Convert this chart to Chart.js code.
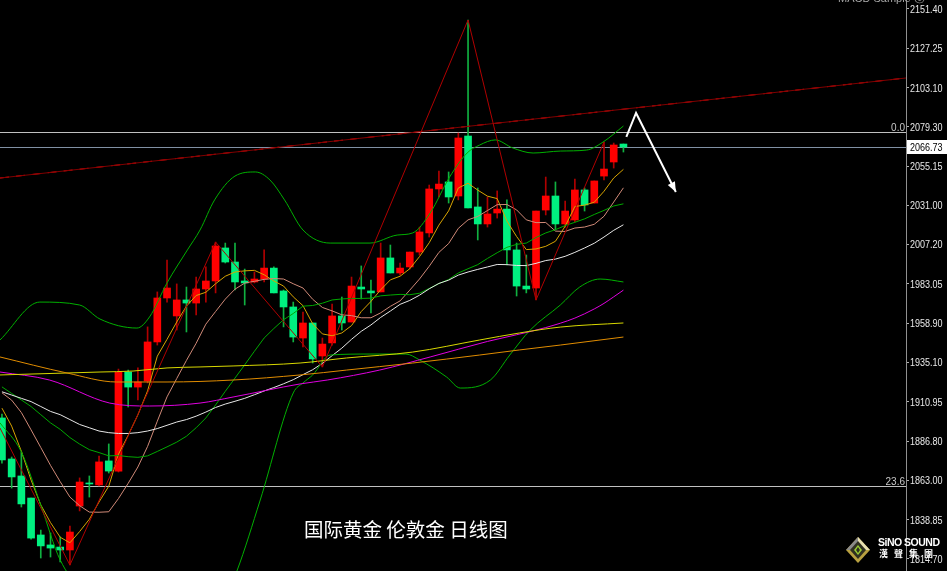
<!DOCTYPE html>
<html><head><meta charset="utf-8">
<script src="https://cdn.jsdelivr.net/npm/chart.js@4.4.1/dist/chart.umd.min.js"></script>
<style>
html,body{margin:0;padding:0;background:#000;overflow:hidden;}
#wrap{position:relative;width:947px;height:571px;background:#000;}
canvas{display:block;}
.title{position:absolute;left:304px;top:519px;font-family:"Noto Sans CJK SC";font-size:19.5px;line-height:20px;color:#fff;white-space:pre;}
.macd{position:absolute;left:838px;top:-9px;font-family:"Liberation Sans",sans-serif;font-size:11px;color:#a8a8a8;white-space:pre;}
.logo1{position:absolute;left:878px;top:537px;font-family:"Liberation Sans",sans-serif;font-weight:bold;font-size:10.5px;line-height:11px;color:#fff;letter-spacing:-0.5px;}
.logo2{position:absolute;left:879px;top:549px;font-family:"Noto Sans CJK TC";font-weight:bold;font-size:9px;line-height:10px;color:#fff;letter-spacing:6px;}
.logoic{position:absolute;left:845px;top:536px;}
</style></head>
<body><div id="wrap"><canvas id="c" width="947" height="571"></canvas>
<div class="title">国际黄金 伦敦金 日线图</div>
<div class="macd">MACD Sample ⓢ</div>
<svg class="logoic" width="26" height="28" viewBox="0 0 26 28">
<polygon points="13,1 25,14 13,27 1,14" fill="#b8a040"/>
<polygon points="13,1 25,14 13,14" fill="#e8e0b0"/>
<polygon points="1,14 13,1 13,14" fill="#8a8a8a"/>
<polygon points="13,5 21,14 13,23 5,14" fill="#303020"/>
<polygon points="13,9 17,14 13,19 9,14" fill="#9acd32"/>
<polygon points="13,11 15,14 13,17 11,14" fill="#303020"/>
</svg>
<div class="logo1">SiNO SOUND</div>
<div class="logo2">漢聲集團</div>
</div>
<script>
// ---- candle data (daily, index 0..64) ----
const opens  = [1901.0,1875.9,1865.5,1852.0,1829.4,1823.3,1822.0,1820.2,1847.1,1861.2,1860.0,1874.7,1868.5,1929.1,1919.9,1923.6,1947.5,1974.4,1963.4,1973.2,1971.3,1979.9,1984.8,2005.0,1996.4,1984.8,1984.2,1986.0,1992.7,1978.7,1968.9,1949.9,1959.1,1938.9,1946.9,1963.4,1959.7,1981.1,1978.7,1978.1,1998.9,1989.7,1993.4,2002.5,2014.2,2041.1,2045.4,2036.8,2073.5,2030.1,2019.7,2026.4,2028.8,2003.8,1981.7,1980.5,2028.2,2036.8,2019.7,2022.1,2040.5,2032.5,2049.0,2057.6,2068.6];
const highs  = [1903.4,1877.1,1880.2,1852.0,1832.4,1830.6,1828.2,1834.9,1864.3,1865.5,1877.7,1885.1,1930.9,1930.3,1931.6,1956.7,1978.1,1997.6,1983.0,1981.1,1987.2,1993.4,2008.6,2008.0,2008.0,1992.1,1990.3,2003.8,1993.4,1979.3,1971.9,1965.8,1959.1,1949.9,1970.7,1975.0,1987.2,1994.0,1985.4,2008.0,2006.8,1995.8,2002.5,2017.8,2043.5,2052.1,2051.5,2075.3,2144.5,2041.7,2036.2,2039.9,2034.4,2008.0,2000.7,2027.6,2048.4,2045.4,2033.7,2047.2,2041.7,2046.0,2069.8,2069.2,2068.6];
const lows   = [1873.4,1858.1,1846.5,1826.9,1815.3,1815.9,1812.9,1811.0,1844.1,1852.6,1859.4,1867.3,1867.9,1907.7,1912.0,1922.4,1945.6,1971.9,1954.8,1953.6,1964.0,1971.9,1977.5,1995.8,1979.3,1970.1,1983.6,1984.2,1977.5,1956.7,1947.5,1944.4,1934.6,1932.2,1945.6,1954.8,1959.7,1973.8,1965.2,1978.1,1989.7,1988.5,1992.1,2000.7,2011.7,2036.2,2032.5,2034.4,2029.5,2009.9,2017.8,2023.3,1994.6,1975.6,1977.5,1973.2,2025.2,2016.0,2017.8,2020.9,2027.6,2032.5,2046.6,2053.9,2063.7];
const closes = [1875.3,1864.9,1848.4,1827.5,1822.7,1821.4,1820.2,1831.2,1861.8,1860.6,1874.1,1868.5,1929.1,1919.9,1923.0,1947.5,1974.4,1980.5,1973.2,1971.3,1979.9,1984.8,2006.2,1996.4,1984.2,1983.6,1986.0,1992.7,1977.5,1968.9,1950.5,1959.1,1937.1,1946.2,1963.4,1959.1,1981.7,1979.9,1977.5,1998.9,1989.7,1992.7,2002.5,2014.8,2041.1,2044.1,2036.2,2072.3,2029.5,2019.7,2025.8,2028.8,2003.8,1981.7,1979.9,2027.6,2036.8,2019.7,2027.6,2040.5,2031.3,2046.0,2053.3,2068.0,2066.73];

// ---- moving averages (one value per candle) ----
const ma5  = [1907,1896,1880.6,1863,1847.8,1837.0,1828.0,1824.6,1831.5,1839.0,1849.6,1859.2,1878.8,1890.4,1902.9,1917.6,1938.8,1949.1,1959.7,1969.4,1975.9,1977.9,1983.1,1987.7,1990.3,1991.0,1991.3,1988.6,1984.8,1981.7,1975.1,1969.7,1958.6,1952.4,1951.3,1953.0,1957.5,1966.1,1972.3,1979.4,1985.5,1987.7,1992.3,1999.7,2008.2,2019.0,2027.7,2041.7,2044.6,2040.4,2036.7,2035.2,2021.5,2012.0,2004.0,2004.4,2006.0,2009.1,2018.3,2030.4,2031.2,2033.0,2039.7,2047.8,2053.1];
const ma10 = [1916.4,1911.9,1904.3,1893.7,1882.9,1872.0,1862.0,1852.6,1847.3,1843.4,1843.3,1843.6,1851.7,1861.0,1871.0,1883.6,1899.0,1913.9,1925.1,1936.2,1946.7,1958.4,1966.1,1973.7,1979.8,1983.5,1984.6,1985.8,1986.3,1986.0,1983.1,1980.5,1973.6,1968.6,1966.5,1964.1,1963.6,1962.3,1962.3,1965.3,1969.3,1972.6,1979.2,1986.0,1993.8,2002.3,2007.7,2017.0,2022.2,2024.3,2027.9,2031.5,2031.6,2028.3,2022.2,2020.5,2020.6,2015.3,2015.1,2017.2,2017.8,2019.5,2024.4,2033.1,2041.8];
const ma20 = [1920,1916,1912,1908,1903,1898,1894,1889,1885,1881.6,1879.8,1877.8,1878.0,1877.3,1876.9,1877.8,1880.5,1883.3,1886.2,1889.8,1895.0,1901.0,1908.9,1917.3,1925.4,1933.5,1941.8,1949.9,1955.7,1961.1,1964.9,1969.4,1969.8,1971.2,1973.2,1973.8,1974.1,1974.1,1974.3,1975.7,1976.2,1976.6,1976.4,1977.3,1980.2,1983.2,1985.7,1989.7,1992.3,1994.8,1998.6,2002.1,2005.4,2007.2,2008.0,2011.4,2014.2,2016.2,2018.7,2020.7,2022.8,2025.5,2028.0,2030.7,2032.0];
const ma30 = [1917,1915,1913,1911,1908,1905,1903,1900,1897,1895,1893,1892,1891.5,1891.5,1892,1893,1894.5,1896.5,1898.5,1900,1902.1,1904.6,1907.4,1909.5,1911.2,1913.0,1915.2,1917.5,1919.6,1921.9,1924.4,1927.5,1930.5,1934.4,1939.1,1943.7,1949.1,1954.0,1957.9,1962.5,1966.4,1970.5,1972.9,1976.1,1980.0,1983.3,1985.3,1988.4,1990.3,1991.9,1993.4,1994.9,1994.8,1994.3,1994.2,1995.6,1997.3,1998.2,1999.9,2002.3,2005.0,2007.9,2011.7,2015.8,2019.2];

// ---- sparser lines: [candle position, price] ----
const bbUpperX = [-0.2,3.9,8.0,10.1,13.9,15.2,17.0,19.1,20.4,21.9,24.0,26.1,27.6,29.1,31.0,33.8,37.9,40.7,42.3,44.1,46.1,47.9,49.2,50.8,52.6,54.7,57.5,60.2,61.9,64];
const bbUpperY = [1948.7,1971.9,1970.1,1961.5,1956.0,1962.8,1983.6,2003.8,2016.0,2034.4,2049.0,2051.5,2046.6,2034.4,2016.0,2008.0,2008.0,2012.9,2014.2,2026.4,2048.4,2063.1,2068.0,2071.1,2066.2,2063.1,2064.3,2064.9,2069.8,2079.6];
const bbLowerX = [-0.2,2.0,4.0,6.0,8,10,14,17,20,22,24.2,26.6,30.0,31.0,32.0,33.8,37.9,41.6,43.0,45.8,47.2,50.3,52.3,54.4,57.5,59.5,61.6,64];
const bbLowerY = [1898,1880.2,1847.7,1814.1,1800,1800,1798,1786,1778,1778,1807.4,1850.8,1916.3,1922.4,1927.3,1939.5,1940.1,1940.1,1936.5,1926.0,1919.3,1924.2,1939.5,1954.8,1970.1,1981.1,1986.0,1984.2];
const ma60X = [-0.2,4.9,11.1,15.2,20.4,23.8,30.7,33.5,38.9,44.1,50,53,56,59,61,62,63,64];
const ma60Y = [1929.1,1924.2,1910.1,1908.3,1910.1,1913.8,1921.8,1924.2,1930.3,1938.3,1947.8,1951.9,1956.3,1962.1,1967.7,1971.1,1975.1,1979.2];
const ma120X = [-0.2,6.7,10.1,13.5,17,20.4,23.8,30.7,35.5,42.3,49.2,53.3,57.5,64];
const ma120Y = [1927.3,1928.5,1929.1,1929.7,1931.6,1932.2,1932.8,1934.6,1937.7,1941.3,1948.7,1953.0,1956.6,1959.1];
const ma200X = [-0.2,6.7,11.8,17,23.8,30.7,35.5,42.3,49.2,53.3,57.5,64];
const ma200Y = [1938.3,1928.5,1923.0,1923.0,1924.2,1927.3,1930.3,1934.6,1939.5,1942.6,1945.6,1950.5];

// zigzag pivots (candle index, 'H' or 'L'), plus entry point at left edge
const zigStart = [-0.2, 1894.8];
const zigPivots = [[7,'L'],[22,'H'],[33,'L'],[48,'H'],[55,'L'],[62,'H']];
// long trend line (two anchors)
const trendX = [-0.2, 93.1];
const trendY = [2047.8, 2109.0];
// fibonacci levels
const fibLabels = ['0.0','23.6'];
const fibPrices = [2075.8, 1859.5];
// arrow anchors (candle position, price)
const arrowX = [64.3, 65.3, 69.4];
const arrowY = [2072.9, 2087.6, 2039.2];
// axis
const tickValues = [2151.40,2127.25,2103.10,2079.30,2055.15,2031.00,2007.20,1983.05,1958.90,1935.10,1910.95,1886.80,1863.00,1838.85,1814.70];
const yMin = 1807.35, yMax = 2156.72;
const xMin = -0.2, xMax = 93.1;

const RED = '#ff0000', GREEN = '#00f080';
const AXIS_FONT = '11px "Liberation Sans", sans-serif';
const idx = closes.map((_, i) => i);
const up = closes.map((c, i) => c > opens[i]);

const pts = (xs, ys) => xs.map((x, k) => ({x, y: ys[k]}));
const lineDs = (data, color, extra) => Object.assign({type:'line', data, borderColor: color, borderWidth: 1, pointRadius: 0, fill: false, tension: 0, order: 1}, extra || {});

const zigData = [{x: zigStart[0], y: zigStart[1]}].concat(zigPivots.map(([i, t]) => ({x: i, y: t === 'H' ? highs[i] : lows[i]})));

const datasets = [
  {type:'bar', data: idx.map(i => ({x: i, y: [lows[i], highs[i]]})), backgroundColor: up.map(u => u ? '#b00000' : '#10b040'), barThickness: 1, grouped: false, order: 3},
  {type:'bar', data: idx.map(i => ({x: i, y: [opens[i], closes[i]]})), backgroundColor: up.map(u => u ? RED : GREEN), barThickness: 7, grouped: false, minBarLength: 1, order: 2},
  lineDs(pts(ma200X, ma200Y), '#e08c00', {cubicInterpolationMode: 'monotone'}),
  lineDs(pts(ma120X, ma120Y), '#d8d800', {cubicInterpolationMode: 'monotone'}),
  lineDs(pts(ma60X, ma60Y), '#e000e0', {cubicInterpolationMode: 'monotone'}),
  lineDs(pts(bbUpperX, bbUpperY), '#00b000', {cubicInterpolationMode: 'monotone'}),
  lineDs(pts(bbLowerX, bbLowerY), '#00b000', {cubicInterpolationMode: 'monotone'}),
  lineDs(pts(idx, ma30), '#e6e6e6'),
  lineDs(pts(idx, ma20), '#00a800'),
  lineDs(pts(idx, ma10), '#d08a78'),
  lineDs(pts(idx, ma5), '#d8a400'),
  lineDs(zigData, '#b00000', {order: 0}),
  lineDs(pts(trendX, trendY), '#800000', {order: 0}),
  lineDs(pts(trendX, trendY), '#ff1010', {order: 0, borderDash: [9, 7]})
];

// draws text horizontally condensed (terminal-style narrow digits)
function narrowText(ctx, txt, x, y, sx) {
  ctx.save(); ctx.translate(x, y); ctx.scale(sx, 1); ctx.fillText(txt, 0, 0); ctx.restore();
}

const overlay = {
  id: 'overlay',
  beforeDatasetsDraw(chart) {
    const {ctx, chartArea: a, scales: {y}} = chart;
    ctx.save();
    ctx.lineWidth = 1;
    fibPrices.forEach(p => {
      const py = Math.round(y.getPixelForValue(p)) + 0.5;
      ctx.strokeStyle = '#c0c0c0';
      ctx.beginPath(); ctx.moveTo(a.left, py); ctx.lineTo(a.right, py); ctx.stroke();
    });
    const last = closes[closes.length - 1];
    const cy = Math.round(y.getPixelForValue(last)) + 0.5;
    ctx.strokeStyle = '#8090a4';
    ctx.beginPath(); ctx.moveTo(a.left, cy); ctx.lineTo(a.right, cy); ctx.stroke();
    ctx.restore();
  },
  afterDraw(chart) {
    const {ctx, chartArea: a, scales: {x, y}} = chart;
    ctx.save();
    // axis labels
    ctx.font = AXIS_FONT; ctx.fillStyle = '#e8e8e8';
    ctx.textAlign = 'left'; ctx.textBaseline = 'middle';
    tickValues.forEach(v => narrowText(ctx, v.toFixed(2), a.right + 4, Math.round(y.getPixelForValue(v)) + 1, 0.82));
    // fib labels
    ctx.font = '10px "Liberation Sans", sans-serif';
    ctx.fillStyle = '#c8c8c8';
    ctx.textAlign = 'right'; ctx.textBaseline = 'alphabetic';
    fibPrices.forEach((p, k) => {
      ctx.fillText(fibLabels[k], a.right - 1, Math.round(y.getPixelForValue(p)) - 1);
    });
    // arrow
    const px = arrowX.map(v => x.getPixelForValue(v));
    const py = arrowY.map(v => y.getPixelForValue(v));
    ctx.strokeStyle = '#ffffff'; ctx.fillStyle = '#ffffff'; ctx.lineWidth = 2;
    ctx.beginPath(); ctx.moveTo(px[0], py[0]);
    for (let k = 1; k < px.length; k++) ctx.lineTo(px[k], py[k]);
    ctx.stroke();
    const n = px.length - 1;
    const ang = Math.atan2(py[n] - py[n-1], px[n] - px[n-1]);
    const L = 10, W = 4;
    ctx.beginPath();
    ctx.moveTo(px[n], py[n]);
    ctx.lineTo(px[n] - L*Math.cos(ang) + W*Math.sin(ang), py[n] - L*Math.sin(ang) - W*Math.cos(ang));
    ctx.lineTo(px[n] - L*Math.cos(ang) - W*Math.sin(ang), py[n] - L*Math.sin(ang) + W*Math.cos(ang));
    ctx.closePath(); ctx.fill();
    // current price box
    const last = closes[closes.length - 1];
    const cy = Math.round(y.getPixelForValue(last));
    ctx.fillStyle = '#ffffff';
    ctx.fillRect(a.right + 1, cy - 7, 40, 14);
    ctx.fillStyle = '#000000';
    ctx.font = AXIS_FONT;
    ctx.textAlign = 'left'; ctx.textBaseline = 'middle';
    narrowText(ctx, last.toFixed(2), a.right + 4, cy + 1, 0.82);
    ctx.restore();
  }
};

new Chart(document.getElementById('c'), {
  type: 'bar',
  data: {datasets},
  options: {
    responsive: false, animation: false, devicePixelRatio: 1,
    layout: {padding: 0},
    plugins: {legend: {display: false}, tooltip: {enabled: false}, title: {display: false}},
    scales: {
      x: {type: 'linear', display: false, min: xMin, max: xMax, offset: false},
      y: {
        type: 'linear', position: 'right', min: yMin, max: yMax,
        afterBuildTicks: s => { s.ticks = tickValues.map(v => ({value: v})); },
        afterFit: s => { s.width = 41; s.paddingTop = 0; s.paddingBottom = 0; },
        ticks: {callback: v => Number(v).toFixed(2), color: 'rgba(0,0,0,0)', autoSkip: false, padding: 2,
                font: {family: '"Liberation Sans", sans-serif', size: 11}},
        grid: {drawOnChartArea: false, drawTicks: true, tickLength: 3, color: '#b0b0b0'},
        border: {display: true, color: '#909090'}
      }
    }
  },
  plugins: [overlay]
});
</script>
</body></html>
